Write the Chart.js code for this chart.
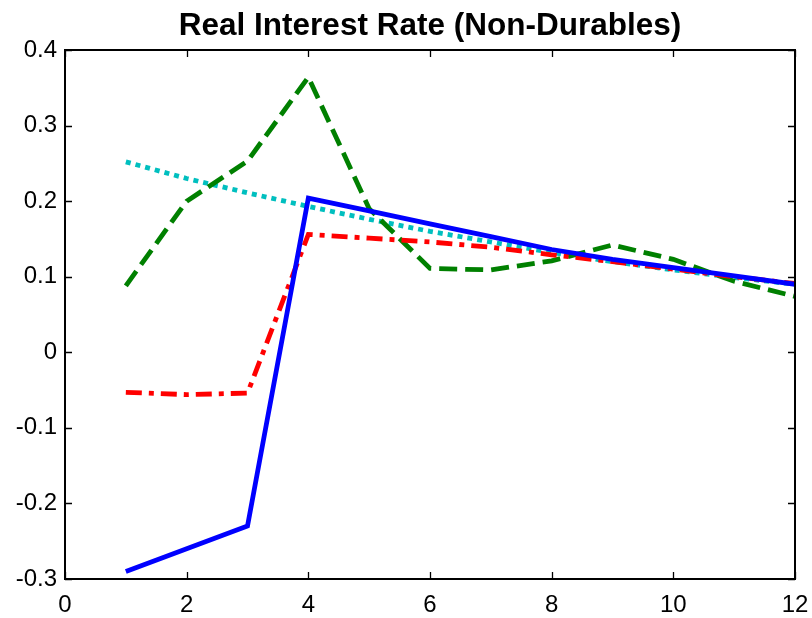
<!DOCTYPE html>
<html>
<head>
<meta charset="utf-8">
<script src="https://cdn.jsdelivr.net/npm/chart.js@4/dist/chart.umd.min.js"></script>
<style>
  html, body { margin: 0; padding: 0; background: #fff; }
  #wrap { width: 812px; height: 618px; }
</style>
</head>
<body>
<div id="wrap"><canvas id="rateChart" width="812" height="618"></canvas></div>
<script>
// horizon (periods)
const periods = [1, 2, 3, 4, 5, 6, 7, 8, 9, 10, 11, 12];

// series values
const blueSolid = [-0.290, -0.260, -0.230, 0.204, 0.187, 0.170, 0.153, 0.136, 0.123, 0.112, 0.101, 0.090];
const redDashDot = [-0.053, -0.056, -0.054, 0.156, 0.151, 0.146, 0.139, 0.129, 0.120, 0.110, 0.100, 0.091];
const greenDashed = [0.088, 0.200, 0.253, 0.364, 0.190, 0.111, 0.109, 0.121, 0.142, 0.123, 0.094, 0.074];
const cyanDotted = [0.252, 0.230, 0.211, 0.193, 0.176, 0.160, 0.146, 0.132, 0.120, 0.109, 0.099, 0.090];

const xTicks = [0, 2, 4, 6, 8, 10, 12];
const yTicks = [-0.3, -0.2, -0.1, 0, 0.1, 0.2, 0.3, 0.4];

const titleText = "Real Interest Rate (Non-Durables)";
const FONT = "'Liberation Sans', Arial, sans-serif";

function toPoints(vals) {
    return periods.map((p, i) => ({ x: p, y: vals[i] }));
}

// ------------------- BOX + INWARD TICKS + TITLE -------------------
const boxTicks = {
    id: "boxTicks",
    afterDraw(chart) {
        const { ctx, chartArea: a, scales } = chart;
        const len = 7;
        ctx.save();
        ctx.strokeStyle = "#000";
        ctx.lineWidth = 1.3;
        ctx.beginPath();
        xTicks.forEach(v => {
            const px = Math.round(scales.x.getPixelForValue(v)) + 0.5;
            ctx.moveTo(px, a.bottom); ctx.lineTo(px, a.bottom - len);
            ctx.moveTo(px, a.top); ctx.lineTo(px, a.top + len);
        });
        yTicks.forEach(v => {
            const py = Math.round(scales.y.getPixelForValue(v)) + 0.5;
            ctx.moveTo(a.left, py); ctx.lineTo(a.left + len, py);
            ctx.moveTo(a.right, py); ctx.lineTo(a.right - len, py);
        });
        ctx.stroke();
        ctx.lineWidth = 2;
        ctx.strokeRect(a.left, a.top, a.right - a.left, a.bottom - a.top);

        // title centred over the plot box, like the original
        ctx.fillStyle = "#000";
        ctx.font = "bold 31.5px " + FONT;
        ctx.textAlign = "center";
        ctx.textBaseline = "alphabetic";
        ctx.fillText(titleText, (a.left + a.right) / 2, 35);
        ctx.restore();
    }
};

const ctx = document.getElementById("rateChart").getContext("2d");
const chart = new Chart(ctx, {
    type: "line",
    data: {
        datasets: [
            { data: toPoints(blueSolid), borderColor: "#0000ff", borderWidth: 4.8 },
            { data: toPoints(redDashDot), borderColor: "#ff0000", borderWidth: 4.8, borderDash: [16, 7, 5, 7] },
            { data: toPoints(greenDashed), borderColor: "#008000", borderWidth: 4.8, borderDash: [18, 8] },
            { data: toPoints(cyanDotted), borderColor: "#00bfbf", borderWidth: 4.8, borderDash: [5, 5] }
        ]
    },
    options: {
        responsive: false,
        animation: false,
        devicePixelRatio: 1,
        layout: { padding: { left: 0, right: 17, top: 50, bottom: 0 } },
        elements: { point: { radius: 0 }, line: { tension: 0, borderCapStyle: "butt" } },
        plugins: {
            legend: { display: false },
            tooltip: { enabled: false },
            title: { display: false }
        },
        scales: {
            x: {
                type: "linear",
                min: 0, max: 12,
                grid: { display: false, drawTicks: false },
                border: { display: false },
                afterBuildTicks: s => { s.ticks = xTicks.map(v => ({ value: v })); },
                afterFit: s => { s.height = 39; s.paddingLeft = 0; s.paddingRight = 0; },
                ticks: {
                    color: "#000",
                    padding: 12,
                    maxRotation: 0,
                    font: { family: FONT, size: 24 },
                    callback: v => String(v)
                }
            },
            y: {
                min: -0.3, max: 0.4,
                grid: { display: false, drawTicks: false },
                border: { display: false },
                afterBuildTicks: s => { s.ticks = yTicks.map(v => ({ value: v })); },
                afterFit: s => { s.width = 65; s.paddingTop = 0; s.paddingBottom = 0; },
                ticks: {
                    color: "#000",
                    padding: 8,
                    font: { family: FONT, size: 24 },
                    callback: v => String(Number(v.toFixed(1)))
                }
            }
        }
    },
    plugins: [boxTicks]
});
</script>
</body>
</html>
